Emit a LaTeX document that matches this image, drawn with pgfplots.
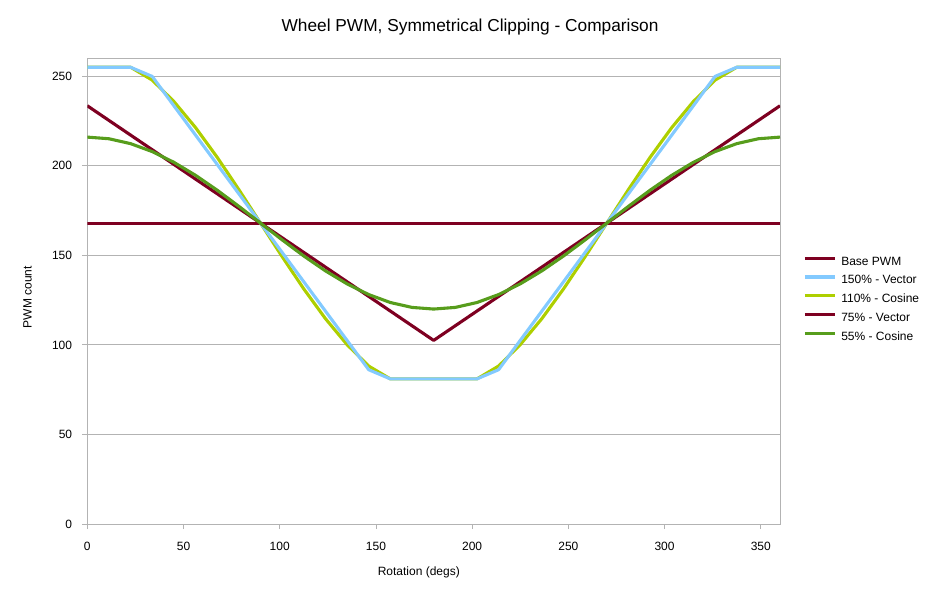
\documentclass[border=0pt]{standalone}
\usepackage{fontspec}
\setmainfont{Liberation Sans}
\usepackage{pgfplots}
\pgfplotsset{compat=1.18}
\usepackage{pgfplotstable}
\definecolor{cRed}{HTML}{7E0021}
\definecolor{cBlue}{HTML}{83CAFF}
\definecolor{cYel}{HTML}{AECF00}
\definecolor{cGrn}{HTML}{579D1C}
\definecolor{cGrid}{HTML}{B3B3B3}
\pgfplotstableread{
x base v150 c110 v75 c55
0 168 255 255 233.5 216.00
11.25 168 255 255 225.31 215.08
22.5 168 255 255 217.13 212.35
33.75 168 249.88 247.82 208.94 207.91
45 168 233.5 235.88 200.75 201.94
56.25 168 217.13 221.33 192.56 194.67
67.5 168 200.75 204.74 184.38 186.37
78.75 168 184.38 186.73 176.19 177.36
90 168 168 168 168 168.00
101.25 168 151.63 149.27 159.81 158.64
112.5 168 135.25 131.26 151.63 149.63
123.75 168 118.88 114.67 143.44 141.33
135 168 102.5 100.12 135.25 134.06
146.25 168 86.13 88.18 127.06 128.09
157.5 168 81 81 118.88 123.65
168.75 168 81 81 110.69 120.92
180 168 81 81 102.5 120.00
191.25 168 81 81 110.69 120.92
202.5 168 81 81 118.88 123.65
213.75 168 86.13 88.18 127.06 128.09
225 168 102.5 100.12 135.25 134.06
236.25 168 118.88 114.67 143.44 141.33
247.5 168 135.25 131.26 151.63 149.63
258.75 168 151.63 149.27 159.81 158.64
270 168 168 168 168 168.00
281.25 168 184.38 186.73 176.19 177.36
292.5 168 200.75 204.74 184.38 186.37
303.75 168 217.13 221.33 192.56 194.67
315 168 233.5 235.88 200.75 201.94
326.25 168 249.88 247.82 208.94 207.91
337.5 168 255 255 217.13 212.35
348.75 168 255 255 225.31 215.08
360 168 255 255 233.5 216.00
}\data
\begin{document}
\begin{tikzpicture}
\path[use as bounding box] (0,0) rectangle (936bp,598bp);
\begin{axis}[
  at={(87.3bp,74bp)}, anchor=south west,
  scale only axis, width=692.7bp, height=465.7bp,
  xmin=0, xmax=360, ymin=0, ymax=260,
  xtick={0,50,...,350}, ytick={0,50,...,250},
  xtick pos=lower, ytick pos=left,
  tick align=outside, major tick length=5bp,
  tick style={cGrid, line width=0.8bp},
  axis line style={cGrid, line width=0.8bp},
  ymajorgrids, grid style={cGrid, line width=0.8bp},
  /pgf/number format/assume math mode=true,
  ticklabel style={font=\fontsize{12bp}{14bp}\selectfont, text=black, inner sep=0pt},
  yticklabel style={anchor=east, xshift=-10bp},
  xticklabel style={anchor=north, yshift=-12.7bp},
  title={Wheel PWM, Symmetrical Clipping - Comparison},
  title style={at={(0.5525,1.0442)}, anchor=base, font=\fontsize{17.3bp}{20bp}\selectfont, inner sep=0pt},
  xlabel={Rotation (degs)},
  xlabel style={at={(0.4786,-0.111)}, anchor=base, font=\fontsize{12bp}{14bp}\selectfont, inner sep=0pt},
  ylabel={PWM count},
  ylabel style={at={(-0.0803,0.487)}, anchor=base, font=\fontsize{12bp}{14bp}\selectfont, inner sep=0pt},
  legend style={draw=none, fill=none, at={(1.0332,0.5755)}, anchor=north west,
    font=\fontsize{12bp}{14bp}\selectfont, row sep=6.8bp, column sep=5bp, inner sep=0pt,
    nodes={inner sep=0pt, text height=9bp, text depth=3bp}},
  legend cell align=left,
  legend image code/.code={\draw[#1] (0bp,4bp) -- (30bp,4bp);},
  every axis plot/.append style={line width=3.1bp, line join=round},
]
\addlegendimage{cRed, line width=3.1bp}
\addlegendentry{Base PWM}
\addlegendimage{cBlue, line width=3.1bp}
\addlegendentry{150\% - Vector}
\addlegendimage{cYel, line width=3.1bp}
\addlegendentry{110\% - Cosine}
\addlegendimage{cRed, line width=3.1bp}
\addlegendentry{75\% - Vector}
\addlegendimage{cGrn, line width=3.1bp}
\addlegendentry{55\% - Cosine}
\addplot[cRed, forget plot] table[x=x, y=base] {\data};
\addplot[cYel, forget plot] table[x=x, y=c110] {\data};
\addplot[cBlue, forget plot] table[x=x, y=v150] {\data};
\addplot[cRed, forget plot] table[x=x, y=v75] {\data};
\addplot[cGrn, forget plot] table[x=x, y=c55] {\data};
\end{axis}
\end{tikzpicture}
\end{document}
